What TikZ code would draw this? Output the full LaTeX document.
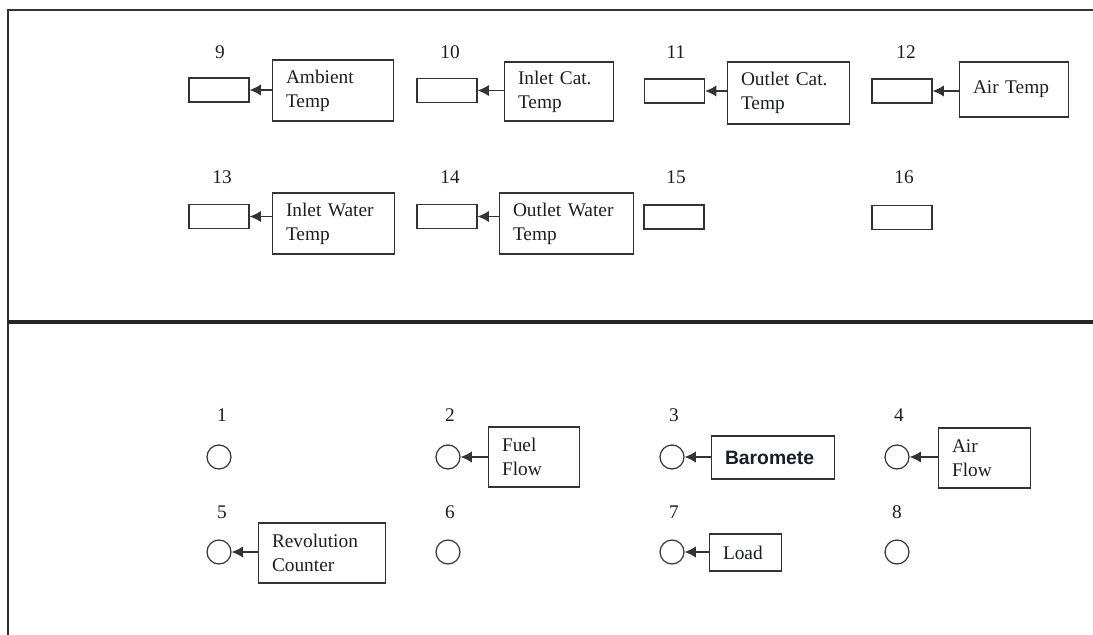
\documentclass[tikz,border=0pt]{standalone}
\usepackage{fontspec}
\setmainfont{Liberation Serif}
\newfontfamily\barofont{Liberation Sans}
\usetikzlibrary{arrows.meta}
\definecolor{ink}{HTML}{1C1C28}
\definecolor{edge}{HTML}{333333}
\begin{document}
\begin{tikzpicture}[x=0.75pt,y=-0.75pt,
  every node/.style={font=\fontsize{14.5}{18}\selectfont, text=ink},
  lbl/.style={draw=edge, line width=0.9pt, inner xsep=10pt, inner ysep=0pt, align=left},
  slot/.style={draw=edge, line width=0.9pt, minimum width=45pt, minimum height=18pt, inner sep=0pt},
  dial/.style={draw=edge, line width=0.9pt, circle, minimum size=18pt, inner sep=0pt},
  num/.style={inner sep=0pt},
  arr/.style={draw=edge, line width=1pt, -{Latex[length=8.5pt,width=8.5pt]}}]
\useasboundingbox (0,0) rectangle (1093,635);
% frame
\draw[edge, line width=1pt] (8,635) -- (8,10) -- (1093,10);
\draw[black!85, line width=3pt] (8,322) -- (1093,322);

% ---- top panel, row 1
\node[num] (n9) at (220,52) {9};
\node[num] (n10) at (450,52) {10};
\node[num] (n11) at (676,52) {11};
\node[num] (n12) at (906,52) {12};
\node[slot] (r9) at (219,90) {};
\node[slot] (r10) at (447,90.5) {};
\node[slot] (r11) at (674.5,91) {};
\node[slot] (r12) at (902,91) {};
\node[lbl, minimum width=90pt, minimum height=45.75pt, text width=70.5pt] (b9) at (333,90.5) {Ambient\\Temp};
\node[lbl, minimum width=81pt, minimum height=44.25pt, text width=61.5pt] (b10) at (559,91.5) {Inlet Cat.\\Temp};
\node[lbl, minimum width=90.75pt, minimum height=46.5pt, text width=71.25pt] (b11) at (788.5,93) {Outlet Cat.\\Temp};
\node[lbl, minimum width=81pt, minimum height=41.25pt, text width=61.5pt] (b12) at (1014,89.5) {Air Temp};
\draw[arr] (b9.west |- r9.east) -- (r9.east);
\draw[arr] (b10.west |- r10.east) -- (r10.east);
\draw[arr] (b11.west |- r11.east) -- (r11.east);
\draw[arr] (b12.west |- r12.east) -- (r12.east);

% ---- top panel, row 2
\node[num] (n13) at (222,177) {13};
\node[num] (n14) at (450,177) {14};
\node[num] (n15) at (676,177) {15};
\node[num] (n16) at (904,177) {16};
\node[slot] (r13) at (219,216.5) {};
\node[slot] (r14) at (447,216.5) {};
\node[slot] (r15) at (674,217) {};
\node[slot] (r16) at (902,217.5) {};
\node[lbl, minimum width=90.75pt, minimum height=45.75pt, text width=71.25pt] (b13) at (333.5,223.5) {Inlet Water\\Temp};
\node[lbl, minimum width=99.75pt, minimum height=45.75pt, text width=80.25pt] (b14) at (566.5,223.5) {Outlet Water\\Temp};
\draw[arr] (b13.west |- r13.east) -- (r13.east);
\draw[arr] (b14.west |- r14.east) -- (r14.east);

% ---- bottom panel
\node[num] (n1) at (222,415) {1};
\node[num] (n2) at (450,415) {2};
\node[num] (n3) at (674,415) {3};
\node[num] (n4) at (899,415) {4};
\node[num] (n5) at (222,512) {5};
\node[num] (n6) at (450,512) {6};
\node[num] (n7) at (674,512) {7};
\node[num] (n8) at (897,512) {8};
\node[dial] (c1) at (219,457) {};
\node[dial] (c2) at (448,457) {};
\node[dial] (c3) at (672,457) {};
\node[dial] (c4) at (897,457) {};
\node[dial] (c5) at (219,552) {};
\node[dial] (c6) at (448,552) {};
\node[dial] (c7) at (672,552) {};
\node[dial] (c8) at (897,552) {};
\node[lbl, minimum width=67.5pt, minimum height=45pt, text width=48pt] (bf) at (534,457) {Fuel\\Flow};
\node[lbl, minimum width=91.5pt, minimum height=32.25pt, text width=72pt, font=\barofont\bfseries\fontsize{14.5}{18}\selectfont] (bb) at (773,457.5) {Baromete};
\node[lbl, minimum width=68.25pt, minimum height=45pt, text width=48.75pt] (ba) at (984.5,458) {Air\\Flow};
\node[lbl, minimum width=94.5pt, minimum height=45pt, text width=75pt] (br) at (322,553) {Revolution\\Counter};
\node[lbl, minimum width=53.25pt, minimum height=27.75pt, text width=33.75pt] (bl) at (745.5,552.5) {Load};
\draw[arr] (bf.west |- c2.east) -- (c2.east);
\draw[arr] (bb.west |- c3.east) -- (c3.east);
\draw[arr] (ba.west |- c4.east) -- (c4.east);
\draw[arr] (br.west |- c5.east) -- (c5.east);
\draw[arr] (bl.west |- c7.east) -- (c7.east);
\end{tikzpicture}
\end{document}
